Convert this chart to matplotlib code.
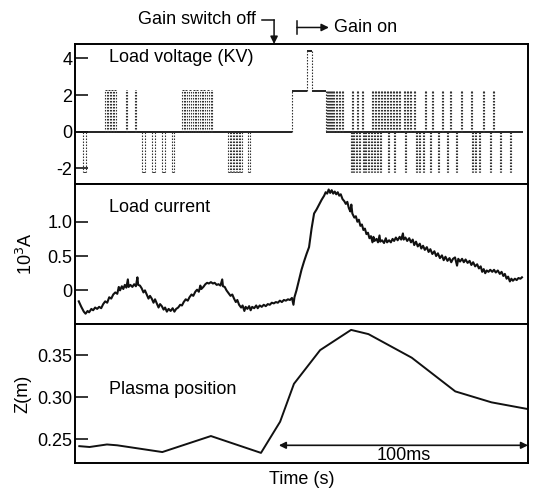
import matplotlib
matplotlib.use("Agg")
import matplotlib.pyplot as plt
from matplotlib.transforms import blended_transform_factory

plt.rcParams['font.family'] = ['Liberation Sans', 'DejaVu Sans']
plt.rcParams['font.size'] = 13

# ---- Load voltage (kV): baseline step profile and switching pulses ----
base_t = [0.0, 86.2, 92.2, 94.2, 99.6, 178.0]
base_v = [0.0, 2.2, 4.4, 2.2, 0.0]

pulse_t = [3.0,
           12.0, 13.2, 14.4, 15.6, 20.2, 24.0,
           26.6, 30.6, 34.6, 38.5,
           42.5, 43.9, 45.3, 46.7, 48.1, 49.5, 50.9, 52.3, 54.0,
           60.8, 62.0, 63.2, 64.4, 65.6, 68.7,
           100.1, 100.9, 101.7, 102.5, 103.7, 104.9, 106.1, 110.1, 112.0, 114.0,
           118.0, 119.2, 120.4, 121.6, 122.8, 124.0, 125.1, 126.3, 127.5, 128.7,
           130.7, 131.9, 133.1, 134.7, 139.1, 141.8, 145.8, 149.0, 153.4, 157.3,
           162.1, 166.1,
           109.7, 110.5, 111.6, 112.8, 114.4, 115.2, 116.4, 117.6, 118.8, 120.0,
           121.2, 124.4, 126.7, 131.2, 135.5, 136.7, 138.3, 141.0, 144.2, 147.8,
           151.4, 157.8, 158.9, 160.5, 164.9, 168.8, 172.8]
pulse_w = [1.2,
           0.8, 0.8, 0.8, 0.8, 0.4, 0.4,
           1.2, 1.0, 1.2, 1.0,
           0.8, 0.8, 0.8, 0.8, 0.8, 0.8, 0.8, 0.8, 0.4,
           0.8, 0.8, 0.8, 0.8, 0.6, 0.8,
           0.5, 0.5, 0.5, 0.5, 0.5, 0.5, 0.5, 0.5, 0.5, 0.5,
           0.5, 0.5, 0.5, 0.5, 0.5, 0.5, 0.5, 0.5, 0.5, 0.5,
           0.5, 0.5, 0.5, 0.5, 0.5, 0.5, 0.5, 0.5, 0.5, 0.5,
           0.5, 0.5,
           0.5, 0.5, 0.5, 0.5, 0.5, 0.5, 0.5, 0.5, 0.5, 0.5,
           0.5, 0.5, 0.5, 0.5, 0.5, 0.5, 0.5, 0.5, 0.5, 0.5,
           0.5, 0.5, 0.5, 0.5, 0.5, 0.5, 0.5]
pulse_v = [-2.2,
           2.3, 2.3, 2.3, 2.3, 2.3, 2.3,
           -2.2, -2.2, -2.2, -2.2,
           2.3, 2.3, 2.3, 2.3, 2.3, 2.3, 2.3, 2.3, 2.3,
           -2.2, -2.2, -2.2, -2.2, -2.2, -2.2,
           2.2, 2.2, 2.2, 2.2, 2.2, 2.2, 2.2, 2.2, 2.2, 2.2,
           2.2, 2.2, 2.2, 2.2, 2.2, 2.2, 2.2, 2.2, 2.2, 2.2,
           2.2, 2.2, 2.2, 2.2, 2.2, 2.2, 2.2, 2.2, 2.2, 2.2,
           2.2, 2.2,
           -2.2, -2.2, -2.2, -2.2, -2.2, -2.2, -2.2, -2.2, -2.2, -2.2,
           -2.2, -2.2, -2.2, -2.2, -2.2, -2.2, -2.2, -2.2, -2.2, -2.2,
           -2.2, -2.2, -2.2, -2.2, -2.2, -2.2, -2.2]

# ---- Load current (10^3 A) ----
cur_t = [1.5, 2.5, 3.5, 4.2, 5.0, 5.6, 6.5, 7.2, 8.0, 8.8, 9.6, 10.4, 11.2, 12.0,
         12.8, 13.6, 14.4, 15.2, 16.0, 16.8, 17.4, 17.9, 18.6, 19.2, 19.8, 20.4,
         21.0, 21.3, 22.0, 22.8, 23.5, 24.2, 24.8, 25.1, 25.8, 26.5, 27.2, 27.8,
         28.5, 29.2, 29.8, 30.5, 31.2, 31.8, 32.5, 33.2, 33.8, 34.5, 35.2, 35.8,
         36.5, 37.2, 38.0, 38.8, 39.5, 40.2, 41.0, 41.8, 42.5, 43.2, 44.0, 44.8,
         45.5, 46.3, 47.0, 47.8, 48.5, 49.2, 49.8, 50.2, 51.0, 51.8, 52.5, 53.2,
         54.0, 54.8, 55.5, 56.3, 57.0, 57.8, 58.5, 58.8, 59.5, 60.2, 61.0, 61.8,
         62.5, 63.2, 63.9, 64.5, 65.2, 66.0, 66.6, 67.3, 67.8, 68.5, 69.2, 69.8,
         70.4, 71.2, 72.0, 72.6, 73.4, 74.2, 75.0, 75.8, 76.6, 77.4, 78.2, 79.0,
         79.8, 80.6, 81.4, 82.2, 83.0, 83.8, 84.6, 85.4, 86.2, 86.8, 87.2, 88.0,
         89.0, 90.0, 91.0, 92.0, 93.0, 94.0, 95.0, 96.0, 97.0, 98.0, 99.0, 99.6,
         100.2, 100.8, 101.4, 102.0, 102.6, 103.2, 103.8, 104.4, 105.0, 105.6,
         106.3, 107.0, 107.6, 108.2, 108.8, 109.4, 109.8, 110.2, 111.0, 111.6,
         112.2, 112.8, 113.4, 114.0, 114.6, 115.2, 115.8, 116.4, 117.0, 117.6,
         118.2, 118.6, 119.0, 119.8, 120.4, 121.0, 121.3, 122.0, 122.8, 123.5,
         124.0, 124.8, 125.5, 126.2, 126.8, 127.5, 128.2, 129.0, 129.6, 130.3,
         130.6, 131.3, 132.0, 132.8, 133.5, 134.2, 134.8, 135.5, 136.2, 137.0,
         137.6, 138.3, 139.0, 139.8, 140.5, 141.2, 142.0, 142.8, 143.5, 144.2,
         145.0, 145.8, 146.5, 147.2, 148.0, 148.8, 149.5, 150.2, 151.0, 151.8,
         152.3, 153.0, 153.8, 154.5, 155.2, 156.0, 156.8, 157.5, 158.2, 159.0,
         159.8, 160.5, 161.2, 161.8, 162.4, 163.0, 163.6, 164.3, 165.0, 165.8,
         166.5, 167.2, 168.0, 168.8, 169.5, 170.2, 170.8, 171.5, 172.1, 172.8,
         173.4, 174.0, 174.8, 175.5, 176.2, 177.0, 177.6]
cur_v = [-0.16, -0.24, -0.31, -0.34, -0.30, -0.32, -0.27, -0.29, -0.25, -0.27,
         -0.24, -0.26, -0.20, -0.16, -0.18, -0.10, -0.12, -0.06, -0.03, -0.05,
         0.05, 0.00, 0.06, 0.02, 0.08, 0.04, 0.16, 0.05, 0.08, 0.05,
         0.09, 0.06, 0.19, 0.08, 0.07, 0.03, -0.03, 0.00, -0.06, -0.12,
         -0.08, -0.12, -0.18, -0.13, -0.19, -0.25, -0.20, -0.23, -0.28, -0.25,
         -0.31, -0.27, -0.30, -0.26, -0.31, -0.27, -0.25, -0.21, -0.22, -0.17,
         -0.13, -0.15, -0.10, -0.06, -0.08, -0.02, 0.01, -0.02, 0.07, 0.02,
         0.05, 0.09, 0.11, 0.10, 0.12, 0.10, 0.11, 0.08, 0.09, 0.07,
         0.16, 0.06, 0.05, 0.00, -0.04, -0.08, -0.06, -0.12, -0.17, -0.14,
         -0.21, -0.25, -0.22, -0.30, -0.24, -0.27, -0.23, -0.29, -0.24, -0.26,
         -0.22, -0.26, -0.22, -0.24, -0.21, -0.23, -0.20, -0.21, -0.18, -0.19,
         -0.17, -0.18, -0.15, -0.17, -0.14, -0.15, -0.13, -0.14, -0.11, -0.21,
         -0.10, 0.00, 0.15, 0.30, 0.42, 0.53, 0.63, 0.90, 1.12, 1.18,
         1.25, 1.32, 1.38, 1.43, 1.41, 1.47, 1.42, 1.46, 1.41, 1.44,
         1.40, 1.43, 1.38, 1.40, 1.33, 1.30, 1.26, 1.29, 1.20, 1.15,
         1.25, 1.12, 1.06, 1.08, 1.00, 1.03, 0.94, 0.96, 0.88, 0.90,
         0.82, 0.84, 0.76, 0.79, 0.70, 0.78, 0.72, 0.75, 0.70, 0.80,
         0.71, 0.73, 0.69, 0.76, 0.70, 0.73, 0.70, 0.75, 0.72, 0.77,
         0.73, 0.78, 0.74, 0.83, 0.74, 0.77, 0.72, 0.76, 0.70, 0.74,
         0.66, 0.71, 0.64, 0.68, 0.61, 0.65, 0.59, 0.63, 0.56, 0.60,
         0.53, 0.57, 0.50, 0.54, 0.47, 0.51, 0.44, 0.49, 0.43, 0.47,
         0.41, 0.46, 0.48, 0.36, 0.46, 0.42, 0.46, 0.41, 0.45, 0.40,
         0.43, 0.37, 0.41, 0.35, 0.38, 0.32, 0.35, 0.27, 0.31, 0.25,
         0.29, 0.27, 0.30, 0.27, 0.30, 0.26, 0.29, 0.24, 0.27, 0.21,
         0.24, 0.17, 0.20, 0.13, 0.17, 0.14, 0.17, 0.15, 0.18, 0.17,
         0.19]

# ---- Plasma position Z (m) ----
pos_t = [1.7, 5.8, 12.7, 16.8, 34.7, 54.0, 73.9, 81.5, 87.0, 97.4,
         109.7, 116.6, 133.8, 151.1, 165.5, 180.0]
pos_v = [0.242, 0.241, 0.244, 0.243, 0.235, 0.254, 0.234, 0.271, 0.316, 0.356,
         0.380, 0.375, 0.347, 0.307, 0.294, 0.286]

volt_ticks = [-2, 0, 2, 4]
volt_labels = ['-2', '0', '2', '4']
cur_ticks = [0, 0.5, 1.0]
cur_labels = ['0', '0.5', '1.0']
pos_ticks = [0.25, 0.30, 0.35]
pos_labels = ['0.25', '0.30', '0.35']

T_MAX = 180.0
W, H = 534, 488
fig = plt.figure(figsize=(W / 100, H / 100), dpi=100)

left = 75 / W
width = 453 / W
ax_v = fig.add_axes([left, 1 - 184 / H, width, 140 / H])
ax_c = fig.add_axes([left, 1 - 324 / H, width, 140 / H])
ax_z = fig.add_axes([left, 1 - 463 / H, width, 139 / H])

for ax in (ax_v, ax_c, ax_z):
    ax.set_xlim(0, T_MAX)
    ax.set_xticks([])
    for s in ax.spines.values():
        s.set_linewidth(1.4)
    ax.tick_params(axis='y', direction='in', length=9, width=1.1, pad=2,
                   labelsize=13)

ink = '#111111'
trace = '#333333'
dot = (0, (1.4, 1.3))

# Load voltage panel
ax_v.set_ylim(-2.85, 4.78)
ax_v.set_yticks(volt_ticks)
ax_v.set_yticklabels(volt_labels)
for i in range(len(base_v)):
    ax_v.hlines(base_v[i], base_t[i], base_t[i + 1], color=ink, lw=1.3)
for i in range(1, len(base_v)):
    ax_v.vlines(base_t[i], base_v[i - 1], base_v[i], color=trace, lw=0.8,
                linestyles=dot)
for t, w, v in zip(pulse_t, pulse_w, pulse_v):
    ax_v.vlines([t, t + w], 0, v, color=trace, lw=0.8, linestyles=dot)
    ax_v.hlines(v, t, t + w, color=trace, lw=0.7)
ax_v.text(0.075, 0.90, 'Load voltage (KV)', transform=ax_v.transAxes,
          ha='left', va='center', fontsize=13)

# Load current panel
ax_c.set_ylim(-0.49, 1.55)
ax_c.set_yticks(cur_ticks)
ax_c.set_yticklabels(cur_labels)
ax_c.plot(cur_t, cur_v, color=ink, lw=1.5)
ax_c.text(0.075, 0.83, 'Load current', transform=ax_c.transAxes,
          ha='left', va='center', fontsize=13)
ax_c.set_ylabel('10$^3$A', fontsize=13, labelpad=8)

# Plasma position panel
ax_z.set_ylim(0.222, 0.387)
ax_z.set_yticks(pos_ticks)
ax_z.set_yticklabels(pos_labels)
ax_z.plot(pos_t, pos_v, color=ink, lw=1.4)
ax_z.text(0.075, 0.53, 'Plasma position', transform=ax_z.transAxes,
          ha='left', va='center', fontsize=13)
ax_z.set_ylabel('Z(m)', fontsize=13, labelpad=4)
ax_z.set_xlabel('Time (s)', fontsize=13, labelpad=6)

# 100 ms span marker
span_start, span_end = 81.0, T_MAX
ax_z.annotate('', xy=(span_start, 0.243), xytext=(span_end, 0.243),
              arrowprops=dict(arrowstyle='<|-|>', color=ink, lw=1.2,
                              mutation_scale=10, shrinkA=0, shrinkB=0),
              annotation_clip=False)
ax_z.text((span_start + span_end) / 2, 0.2305, '100ms', ha='center',
          va='center', fontsize=13)

# Gain switching annotations above the top panel
tr = blended_transform_factory(ax_v.transData, ax_v.transAxes)
gain_off_t = 79.1
gain_on_t = 88.2
ax_v.text(71.9, 1.178, 'Gain switch off', transform=tr, ha='right',
          va='center', fontsize=13)
ax_v.plot([74.3, gain_off_t], [1.172, 1.172], color=ink, lw=1.1,
          transform=tr, clip_on=False)
ax_v.annotate('', xy=(gain_off_t, 1.0), xycoords=tr,
              xytext=(gain_off_t, 1.172), textcoords=tr,
              arrowprops=dict(arrowstyle='-|>', color=ink, lw=1.1,
                              mutation_scale=11, shrinkA=0, shrinkB=0))
ax_v.plot([gain_on_t, gain_on_t], [1.07, 1.165], color=ink, lw=1.1,
          transform=tr, clip_on=False)
ax_v.annotate('', xy=(100.9, 1.118), xycoords=tr,
              xytext=(gain_on_t, 1.118), textcoords=tr,
              arrowprops=dict(arrowstyle='-|>', color=ink, lw=1.1,
                              mutation_scale=11, shrinkA=0, shrinkB=0))
ax_v.text(102.9, 1.12, 'Gain on', transform=tr, ha='left', va='center',
          fontsize=13)

fig.savefig('out.png', dpi=100)
